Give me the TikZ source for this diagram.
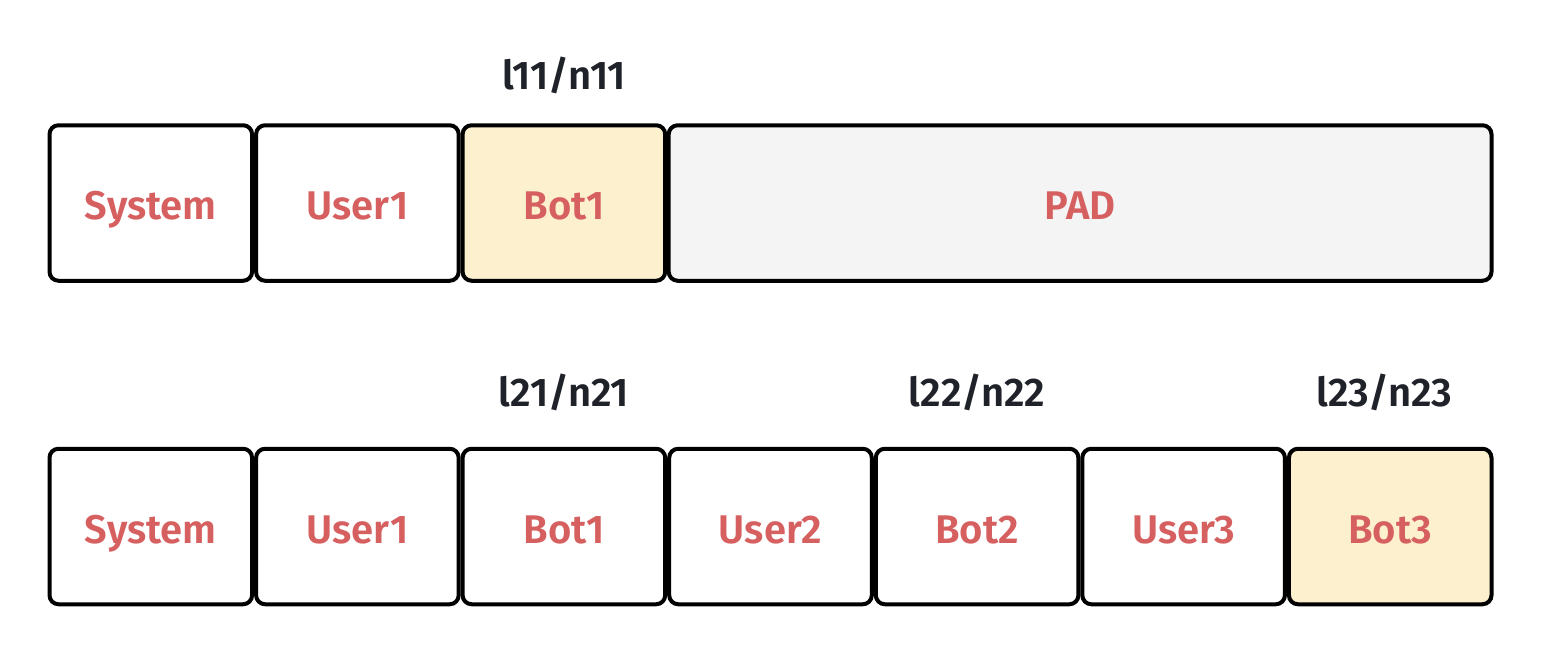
\documentclass[tikz,border=0pt]{standalone}
\usepackage{fontspec}
\setmainfont{Fira Sans}[UprightFont=* SemiBold, BoldFont=* Bold]
\definecolor{txtred}{HTML}{D65F5F}
\definecolor{lbl}{HTML}{1F2329}
\definecolor{ylw}{HTML}{FDF0CE}
\definecolor{padg}{HTML}{F4F4F4}
\begin{document}
\begin{tikzpicture}[x=1pt,y=-1pt,
  seg/.style={draw=black, line width=4pt, rounded corners=9pt, minimum width=202.6pt, minimum height=155.5pt, inner sep=0pt, text=txtred, font=\fontsize{40}{46}\selectfont, text height=33pt, text depth=0pt, fill=white},
  hl/.style={fill=ylw},
  lab/.style={text=lbl, font=\fontsize{40}{46}\selectfont, inner sep=0pt, anchor=base}]
\useasboundingbox (0,0) rectangle (1542,656);
% row 1
\node[seg] (a1) at (150.8,203) {System};
\node[seg] (a2) at (357.4,203) {User1};
\node[seg,hl] (a3) at (563.9,203) {Bot1};
\node[seg, fill=padg, minimum width=822.8pt] (a4) at (1080.1,203) {PAD};
\node[lab] (t1) at (564,89.5) {l11/n11};
% row 2
\node[seg] (b1) at (150.8,526.5) {System};
\node[seg] (b2) at (357.4,526.5) {User1};
\node[seg] (b3) at (563.9,526.5) {Bot1};
\node[seg] (b4) at (770.5,526.5) {User2};
\node[seg] (b5) at (977.1,526.5) {Bot2};
\node[seg] (b6) at (1183.6,526.5) {User3};
\node[seg,hl] (b7) at (1390.2,526.5) {Bot3};
\node[lab] (t2) at (564,406.5) {l21/n21};
\node[lab] (t3) at (977,406.5) {l22/n22};
\node[lab] (t4) at (1384.5,406.5) {l23/n23};
\end{tikzpicture}
\end{document}
